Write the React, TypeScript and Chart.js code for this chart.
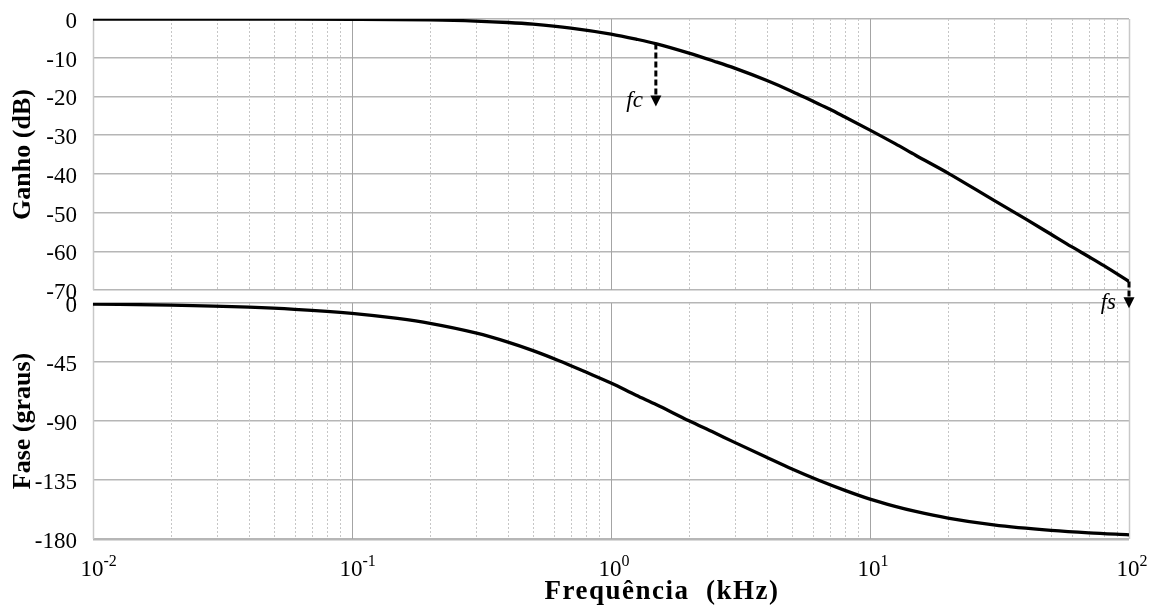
import React, { useEffect, useRef } from "react";
import { Chart, registerables } from "chart.js";

Chart.register(...registerables);

// Frequency axis (kHz) and the measured responses
const gainFreqKHz = [0.01, 0.02, 0.05, 0.1, 0.2, 0.3, 0.4, 0.5, 0.7, 1, 1.25, 1.5, 2, 2.5, 3, 4, 5, 6, 7, 8, 10, 12.5, 15, 20, 30, 40, 50, 60, 70, 80, 100];
const gainDb = [0, -0.01, -0.03, -0.07, -0.24, -0.53, -0.9, -1.34, -2.34, -3.9, -5.2, -6.4, -8.8, -10.9, -12.7, -15.9, -18.7, -21.2, -23.3, -25.3, -28.7, -32.2, -35.2, -39.8, -46.8, -51.7, -55.6, -58.8, -61.4, -63.7, -67.8];

const phaseFreqKHz = [0.01, 0.02, 0.04, 0.06, 0.1, 0.15, 0.2, 0.3, 0.4, 0.5, 0.63, 0.8, 1, 1.25, 1.5, 2, 2.5, 3, 4, 5, 6.3, 8, 10, 12.5, 15, 20, 30, 50, 70, 100];
const phaseDeg = [-0.8, -1.6, -3.2, -4.8, -7.9, -11.8, -15.5, -22.8, -29.8, -36.3, -44, -52.7, -61, -70.3, -77.6, -89.8, -98.8, -106.3, -117.8, -126.6, -135, -142.9, -149.6, -155.1, -159, -164.1, -169.3, -173.5, -175.4, -176.8];

// Tick labels
const decadeTicks = [0.01, 0.1, 1, 10, 100];
const decadeExponents = ["-2", "-1", "0", "1", "2"];
const gainTicks = [0, -10, -20, -30, -40, -50, -60, -70];
const phaseTicks = [0, -45, -90, -135, -180];

// Annotated frequencies: cut-off and sampling
const markerLabels = ["fc", "fs"];
const markerFreqKHz = [1.49, 100];
const markerFromDb = [-6.35, -67.8];
const markerToDb = [-22.6, -74.7];

const SERIF = "'Liberation Serif', 'Times New Roman', serif";

const logGridPlugin = {
  id: "logGrid",
  beforeDatasetsDraw(chart: any) {
    const { ctx, chartArea } = chart;
    const xs = chart.scales.x;
    ctx.save();
    ctx.lineWidth = 1;
    ctx.strokeStyle = "#c6c6c6";
    ctx.setLineDash([2, 2]);
    for (let d = 0; d < decadeTicks.length - 1; d++) {
      for (let k = 2; k <= 9; k++) {
        const x = Math.round(xs.getPixelForValue(decadeTicks[d] * k)) + 0.5;
        ctx.beginPath();
        ctx.moveTo(x, chartArea.top);
        ctx.lineTo(x, chartArea.bottom);
        ctx.stroke();
      }
    }
    ctx.setLineDash([]);
    decadeTicks.forEach((v, i) => {
      const x = Math.round(xs.getPixelForValue(v)) + 0.5;
      const edge = i === 0 || i === decadeTicks.length - 1;
      ctx.strokeStyle = edge ? "#c8c8c8" : "#a4a4a4";
      ctx.lineWidth = edge ? 1.5 : 1;
      ctx.beginPath();
      ctx.moveTo(x, chartArea.top);
      ctx.lineTo(x, chartArea.bottom);
      ctx.stroke();
    });
    ctx.restore();
  },
};

const markerPlugin = {
  id: "markers",
  afterDraw(chart: any) {
    const { ctx } = chart;
    const xs = chart.scales.x;
    const ys = chart.scales.y;
    ctx.save();
    markerLabels.forEach((label, i) => {
      const x = xs.getPixelForValue(markerFreqKHz[i]);
      const y0 = ys.getPixelForValue(markerFromDb[i]);
      const y1 = ys.getPixelForValue(markerToDb[i]);
      const head = 11;
      ctx.strokeStyle = "#000";
      ctx.lineWidth = 3;
      ctx.setLineDash([6, 3]);
      ctx.beginPath();
      ctx.moveTo(x, y0);
      ctx.lineTo(x, y1 - head + 1);
      ctx.stroke();
      ctx.setLineDash([]);
      ctx.fillStyle = "#000";
      ctx.beginPath();
      ctx.moveTo(x - 5.5, y1 - head);
      ctx.lineTo(x + 5.5, y1 - head);
      ctx.lineTo(x, y1);
      ctx.closePath();
      ctx.fill();
      ctx.font = `italic 23px ${SERIF}`;
      ctx.textAlign = "right";
      ctx.textBaseline = "alphabetic";
      ctx.fillText(label, x - 13, y1 + 1);
    });
    ctx.restore();
  },
};

const xLabelsPlugin = {
  id: "xLabels",
  afterDraw(chart: any) {
    const { ctx, chartArea } = chart;
    const xs = chart.scales.x;
    const base = chartArea.bottom + 37;
    ctx.save();
    ctx.fillStyle = "#000";
    ctx.textAlign = "left";
    ctx.textBaseline = "alphabetic";
    decadeTicks.forEach((v, i) => {
      const x = xs.getPixelForValue(v);
      ctx.font = `23px ${SERIF}`;
      const w = ctx.measureText("10").width;
      const x0 = x - w / 2 - 1;
      ctx.fillText("10", x0, base);
      ctx.font = `16px ${SERIF}`;
      ctx.fillText(decadeExponents[i], x0 + w, base - 10);
    });
    // axis title, letter-spaced and set right of centre
    ctx.font = `bold 27px ${SERIF}`;
    (ctx as any).letterSpacing = "1.5px";
    ctx.textAlign = "center";
    const cx = (chartArea.left + chartArea.right) / 2 + 51;
    ctx.fillText("Frequência  (kHz)", cx, chartArea.bottom + 60);
    ctx.restore();
  },
};

function yAxis(min: number, max: number, ticks: number[], title: string) {
  return {
    min,
    max,
    afterFit(scale: any) {
      scale.width = 93;
      scale.paddingTop = 0;
      scale.paddingBottom = 0;
    },
    afterBuildTicks(scale: any) {
      scale.ticks = ticks.map((value) => ({ value }));
    },
    border: { display: false },
    grid: {
      drawTicks: false,
      color: "#b6b6b6",
      lineWidth: (c: any) => (c.tick && c.tick.value === -180 ? 2.5 : 1.5),
    },
    ticks: {
      padding: 16,
      labelOffset: 3,
      color: "#000",
      font: { family: SERIF, size: 23 },
    },
    title: {
      display: true,
      text: title,
      color: "#000",
      font: { family: SERIF, size: 26, weight: "bold" as const },
      padding: { top: 8, bottom: 0 },
    },
  };
}

function xAxis() {
  return {
    type: "logarithmic" as const,
    min: 0.01,
    max: 100,
    display: false,
  };
}

export default function App() {
  const topRef = useRef<HTMLCanvasElement>(null);
  const botRef = useRef<HTMLCanvasElement>(null);

  useEffect(() => {
    const gain = new Chart(topRef.current!, {
      type: "line",
      data: {
        datasets: [
          {
            data: gainFreqKHz.map((f, i) => ({ x: f, y: gainDb[i] })),
            borderColor: "#000",
            borderWidth: 3.3,
            pointRadius: 0,
            cubicInterpolationMode: "monotone",
          },
        ],
      },
      options: {
        responsive: false,
        animation: false,
        layout: { padding: { left: 0, right: 31, top: 19, bottom: 30 } },
        plugins: { legend: { display: false }, tooltip: { enabled: false } },
        scales: {
          x: xAxis(),
          y: yAxis(-70, 0, gainTicks, "Ganho (dB)"),
        },
      } as any,
      plugins: [logGridPlugin, markerPlugin],
    });

    const phase = new Chart(botRef.current!, {
      type: "line",
      data: {
        datasets: [
          {
            data: phaseFreqKHz.map((f, i) => ({ x: f, y: phaseDeg[i] })),
            borderColor: "#000",
            borderWidth: 3.3,
            pointRadius: 0,
            cubicInterpolationMode: "monotone",
          },
        ],
      },
      options: {
        responsive: false,
        animation: false,
        layout: { padding: { left: 0, right: 31, top: 8, bottom: 75 } },
        plugins: { legend: { display: false }, tooltip: { enabled: false } },
        scales: {
          x: xAxis(),
          y: yAxis(-180, 0, phaseTicks, "Fase (graus)"),
        },
      } as any,
      plugins: [logGridPlugin, xLabelsPlugin],
    });

    return () => {
      gain.destroy();
      phase.destroy();
    };
  }, []);

  return (
    <div style={{ position: "fixed", left: 0, top: 0, width: 1160, height: 614, background: "#fff" }}>
      <canvas ref={botRef} width={1160} height={319} style={{ position: "absolute", left: 0, top: 295 }} />
      <canvas ref={topRef} width={1160} height={320} style={{ position: "absolute", left: 0, top: 0 }} />
    </div>
  );
}
